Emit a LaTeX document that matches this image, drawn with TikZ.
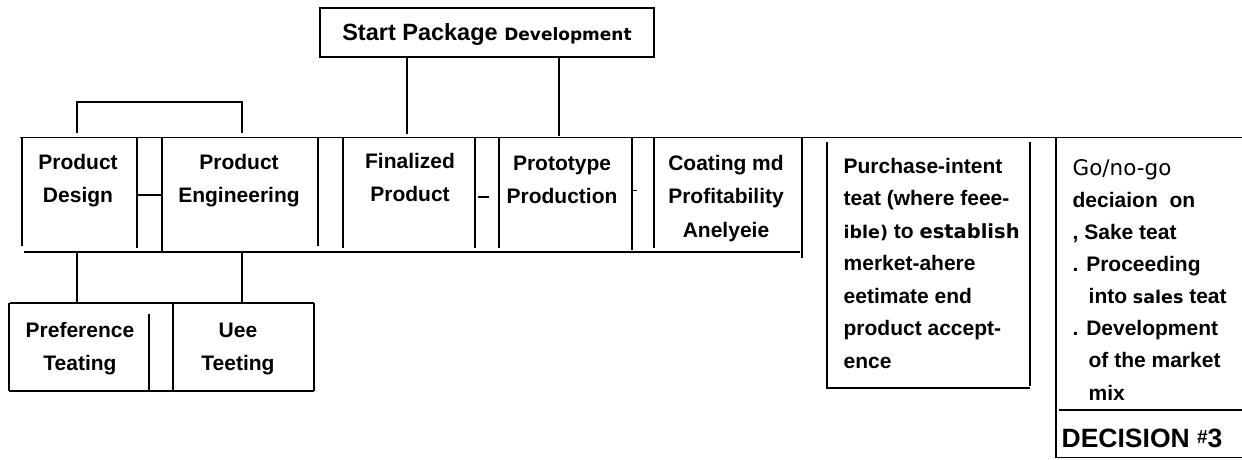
\documentclass[tikz,border=0pt]{standalone}
\usepackage{fontspec}
\setmainfont{Liberation Sans}
\newfontfamily\dvs{DejaVu Sans}
\begin{document}
\begin{tikzpicture}[x=1pt,y=-1pt,line width=1.3pt,
  lbl/.style={font=\bfseries\fontsize{21}{33}\selectfont,align=center,anchor=base,inner sep=0pt},
  lft/.style={font=\bfseries\fontsize{21}{32.5}\selectfont,align=left,anchor=base west,inner sep=0pt},
  thick line/.style={line width=1.9pt}]
\useasboundingbox (0,0) rectangle (1242,459);

% start box
\node[draw,line width=1.5pt,minimum width=334pt,minimum height=49pt,inner sep=0pt,
      text height=17pt,text depth=2pt] (start) at (487,32.5)
  {\bfseries\fontsize{23.5}{26}\selectfont Start Package {\dvs\fontsize{17}{20}\selectfont Development}};

% connection coordinates
\coordinate (sfp) at (407,134);
\coordinate (spp) at (559,136);
\draw (sfp |- start.south) -- (sfp);
\draw (spp |- start.south) -- (spp);

% main row frame
\draw[thick line] (20,137.5) -- (1242,137.5);
\draw[thick line] (24,252) -- (800,252);
\draw (22,137) -- (22,246);
\draw (137,137) -- (137,248);
\draw (162,137) -- (162,252);
\draw (318,137) -- (318,246);
\draw (343,137) -- (343,248);
\draw (475,137) -- (475,248);
\draw (499,137) -- (499,248);
\draw (632,137) -- (632,250);
\draw (654,137) -- (654,248);
\draw (802,137) -- (802,258);

% small links
\draw[line width=1.6pt] (137,195) -- (162,195);
\draw[line width=1.6pt] (478,197) -- (489,197);
\draw[line width=1pt] (632,190) -- (637,190);

% bracket above design/engineering
\coordinate (bl) at (77,102);
\coordinate (br) at (242,102);
\draw (77,133) -- (bl) -- (br) -- (242,133);

% main row text (anchor = baseline of last line)
\node[lbl] (pd) at (78,202) {Product\\Design};
\node[lbl] (pe) at (239,202) {Product\\Engineering};
\node[lbl] (fp) at (410,201) {Finalized\\Product};
\node[lbl] (pp) at (562,203) {Prototype\\Production};
\node[lbl,font=\bfseries\fontsize{21}{33.5}\selectfont] (ca) at (726,237) {Coating md\\Profitability\\Anelyeie};

% lower connectors
\coordinate (lpt) at (77,302);
\coordinate (lut) at (242,302);
\draw (77,252) -- (lpt);
\draw (242,252) -- (lut);

% lower boxes
\draw (10,303) -- (314,303);
\draw (9,391) -- (314,391);
\draw (9,303) -- (9,391);
\draw (314,303) -- (314,391);
\draw (149,314) -- (149,391);
\draw (173,303) -- (173,391);
\node[lbl] (pt) at (80,370) {Preference\\Teating};
\node[lbl] (ut) at (238,370) {Uee\\Teeting};

% purchase-intent box
\draw (827,142) -- (827,388) -- (1030,388);
\draw (1030,142) -- (1030,386);
\node[lft] (pi) at (843,368) {Purchase-intent\\teat (where feee-\\{\dvs\bfseries\fontsize{17.5}{20}\selectfont ible)} to {\dvs\bfseries\fontsize{19.5}{20}\selectfont establish}\\merket-ahere\\eetimate end\\product accept-\\ence};

% decision box
\draw (1056,137) -- (1056,458);
\draw (1059,410) -- (1242,410);
\draw (1056,457.5) -- (1242,457.5);
\node[lft,font=\bfseries\fontsize{21}{32.1}\selectfont] (gn) at (1072,400)
  {{\dvs\mdseries\fontsize{21.5}{22}\selectfont Go/no-go}\\deciaion\ \ on\\, Sake teat\\. Proceeding\\\hspace*{16pt}into {\dvs\bfseries\fontsize{17.5}{20}\selectfont sales} teat\\. Development\\\hspace*{16pt}of the market\\\hspace*{16pt}mix};
\node[lft,font=\bfseries\fontsize{26.5}{30}\selectfont] (dec) at (1061,447)
  {DECISION {\fontsize{19}{20}\selectfont\raisebox{4pt}{\#}}3};
\end{tikzpicture}
\end{document}
